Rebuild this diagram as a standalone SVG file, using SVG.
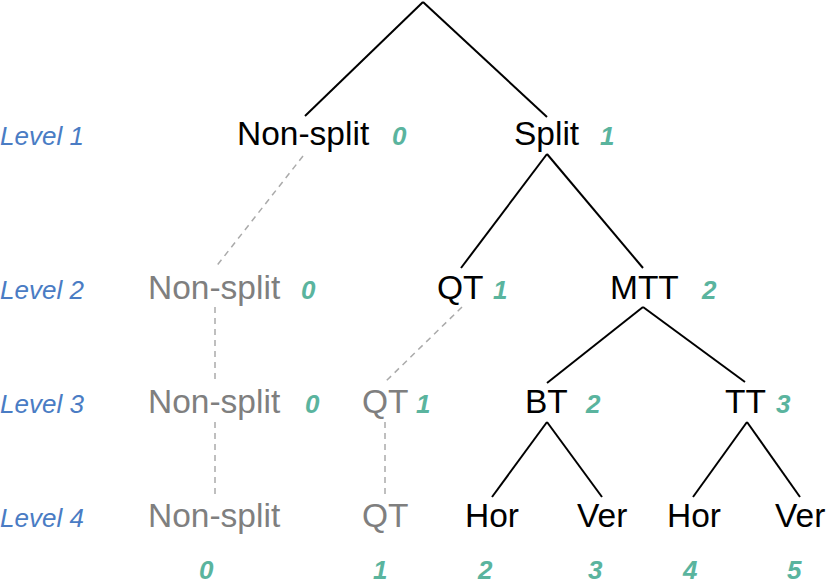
<svg xmlns="http://www.w3.org/2000/svg" width="827" height="586" viewBox="0 0 827 586">
<style>
.n{font-family:"Liberation Sans",Arial,sans-serif;font-size:33.5px;fill:#000}
.g{font-family:"Liberation Sans",Arial,sans-serif;font-size:33.5px;fill:#7f7f7f}
.v{font-family:"Liberation Sans",Arial,sans-serif;font-size:26px;font-weight:bold;font-style:italic;fill:#5ab49e}
.lv{font-family:"Liberation Sans",Arial,sans-serif;font-size:26px;font-style:italic;fill:#4a7cc4}
.s{stroke:#000;stroke-width:2;fill:none}
.d{stroke:#aaaaaa;stroke-width:1.5;stroke-dasharray:6 5;fill:none}
</style>
<rect width="827" height="586" fill="#fff"/>
<g id="connectors">
<line class="s" x1="423" y1="2" x2="305" y2="116"/>
<line class="s" x1="423" y1="2" x2="547" y2="117"/>
<line class="s" x1="547" y1="154" x2="461" y2="268"/>
<line class="s" x1="547" y1="154" x2="643" y2="268"/>
<line class="s" x1="643" y1="307" x2="547" y2="383"/>
<line class="s" x1="643" y1="307" x2="745" y2="382"/>
<line class="s" x1="547" y1="422" x2="492" y2="497"/>
<line class="s" x1="547" y1="422" x2="602" y2="497"/>
<line class="s" x1="747" y1="422" x2="693" y2="497"/>
<line class="s" x1="747" y1="422" x2="800" y2="497"/>
<line class="d" x1="303" y1="156" x2="215" y2="268"/>
<line class="d" x1="215" y1="307" x2="215" y2="382"/>
<line class="d" x1="215" y1="422" x2="215" y2="495"/>
<line class="d" x1="462" y1="307" x2="384" y2="383"/>
<line class="d" x1="385" y1="422" x2="385" y2="495"/>
</g>
<g id="levels">
<text class="lv" x="0" y="145">Level 1</text>
<text class="lv" x="0" y="299">Level 2</text>
<text class="lv" x="0" y="413">Level 3</text>
<text class="lv" x="0" y="527">Level 4</text>
</g>
<g id="l1-nonsplit"><text class="n" x="237" y="145">Non-split</text><text class="v" x="392" y="145">0</text></g>
<g id="l1-split"><text class="n" x="514" y="145">Split</text><text class="v" x="600" y="145">1</text></g>
<g id="l2-nonsplit"><text class="g" x="148" y="299">Non-split</text><text class="v" x="301" y="299">0</text></g>
<g id="l2-qt"><text class="n" x="437" y="299">QT</text><text class="v" x="493" y="299">1</text></g>
<g id="l2-mtt"><text class="n" x="610" y="299">MTT</text><text class="v" x="702" y="299">2</text></g>
<g id="l3-nonsplit"><text class="g" x="148" y="413">Non-split</text><text class="v" x="305" y="413">0</text></g>
<g id="l3-qt"><text class="g" x="362" y="413">QT</text><text class="v" x="416" y="413">1</text></g>
<g id="l3-bt"><text class="n" x="525" y="413">BT</text><text class="v" x="586" y="413">2</text></g>
<g id="l3-tt"><text class="n" x="725" y="413">TT</text><text class="v" x="776" y="413">3</text></g>
<g id="l4-nonsplit"><text class="g" x="148" y="527">Non-split</text><text class="v" x="199" y="579">0</text></g>
<g id="l4-qt"><text class="g" x="362" y="527">QT</text><text class="v" x="373" y="579">1</text></g>
<g id="l4-bt-hor"><text class="n" x="465" y="527">Hor</text><text class="v" x="478" y="579">2</text></g>
<g id="l4-bt-ver"><text class="n" x="577" y="527">Ver</text><text class="v" x="588" y="579">3</text></g>
<g id="l4-tt-hor"><text class="n" x="667" y="527">Hor</text><text class="v" x="683" y="579">4</text></g>
<g id="l4-tt-ver"><text class="n" x="775" y="527">Ver</text><text class="v" x="787" y="579">5</text></g>
</svg>
